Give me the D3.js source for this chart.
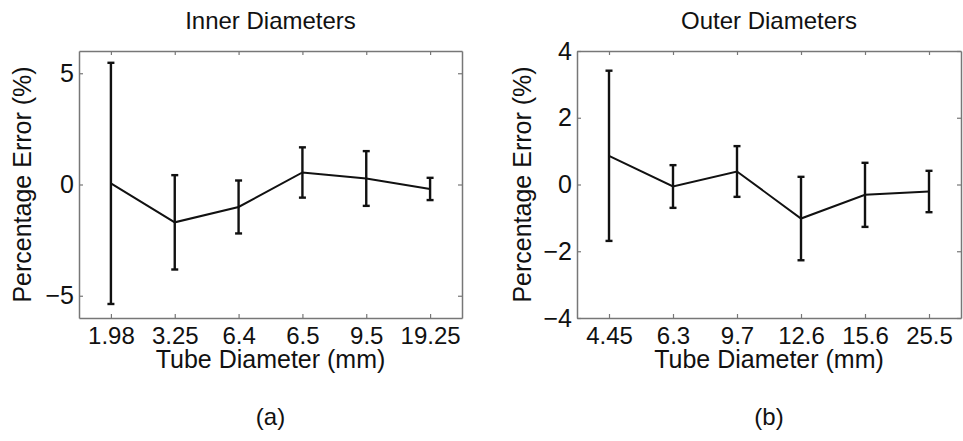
<!DOCTYPE html>
<meta charset="utf-8">
<script src="https://d3js.org/d3.v7.min.js"></script>
<style>
  body { margin: 0; background: #fff; }
  text { font-family: "Liberation Sans", Arial, Helvetica, sans-serif; fill: #111; }
</style>
<div id="my_dataviz"></div>
<script>

// values (mean and half-length of the error bar)
var innerLabels = ["1.98", "3.25", "6.4", "6.5", "9.5", "19.25"];
var innerMean   = [0.05, -1.70, -1.01, 0.54, 0.27, -0.20];
var innerErr    = [5.42, 2.12, 1.19, 1.13, 1.23, 0.50];

var outerLabels = ["4.45", "6.3", "9.7", "12.6", "15.6", "25.5"];
var outerMean   = [0.86, -0.06, 0.39, -1.02, -0.31, -0.21];
var outerErr    = [2.55, 0.64, 0.76, 1.25, 0.96, 0.62];

var innerTicks = [-5, 0, 5];
var outerTicks = [-4, -2, 0, 2, 4];

var svg = d3.select("#my_dataviz")
  .append("svg")
    .attr("width", 963)
    .attr("height", 441);

function panel(opt) {
  var width = opt.width, height = 267;
  var g = svg.append("g")
    .attr("transform", "translate(" + opt.left + "," + 51 + ")");

  var x = d3.scalePoint()
    .domain(opt.labels)
    .range([0, width])
    .padding(0.5);

  var y = d3.scaleLinear()
    .domain(opt.domain)
    .range([height, 0]);

  // axes, MATLAB style ticks pointing inwards
  var xb = g.append("g")
    .attr("transform", "translate(0," + height + ")")
    .call(d3.axisBottom(x).tickSizeInner(-4).tickSizeOuter(0).tickPadding(9));
  var xt = g.append("g")
    .call(d3.axisTop(x).tickSizeInner(-4).tickSizeOuter(0).tickFormat(""));
  var yl = g.append("g")
    .call(d3.axisLeft(y).tickValues(opt.ticks).tickSizeInner(-4).tickSizeOuter(0).tickPadding(5)
      .tickFormat(function(d) { return d < 0 ? "\u2212" + Math.abs(d) : d; }));
  var yr = g.append("g")
    .attr("transform", "translate(" + width + ",0)")
    .call(d3.axisRight(y).tickValues(opt.ticks).tickSizeInner(-4).tickSizeOuter(0).tickFormat(""));

  [xb, xt, yl, yr].forEach(function(a) {
    a.select(".domain").attr("stroke", "#777").attr("stroke-width", 1.5);
    a.selectAll(".tick line").attr("stroke", "#777").attr("stroke-width", 1.2);
    a.selectAll(".tick text")
      .style("font-size", "25px")
      .style("font-family", "'Liberation Sans', Arial, sans-serif")
      .attr("fill", "#111");
  });
  xb.selectAll(".tick text").style("font-size", "24px");

  // error bars
  var bars = g.append("g")
    .selectAll("g")
    .data(opt.labels)
    .enter()
    .append("g")
      .attr("stroke", "#111")
      .attr("stroke-width", 2.4);
  bars.append("line")
    .attr("x1", function(d) { return x(d); })
    .attr("x2", function(d) { return x(d); })
    .attr("y1", function(d, i) { return y(opt.mean[i] + opt.err[i]); })
    .attr("y2", function(d, i) { return y(opt.mean[i] - opt.err[i]); });
  bars.append("line")
    .attr("x1", function(d) { return x(d) - 3.5; })
    .attr("x2", function(d) { return x(d) + 3.5; })
    .attr("y1", function(d, i) { return y(opt.mean[i] + opt.err[i]); })
    .attr("y2", function(d, i) { return y(opt.mean[i] + opt.err[i]); });
  bars.append("line")
    .attr("x1", function(d) { return x(d) - 3.5; })
    .attr("x2", function(d) { return x(d) + 3.5; })
    .attr("y1", function(d, i) { return y(opt.mean[i] - opt.err[i]); })
    .attr("y2", function(d, i) { return y(opt.mean[i] - opt.err[i]); });

  // the mean line
  g.append("path")
    .datum(opt.labels)
    .attr("fill", "none")
    .attr("stroke", "#111")
    .attr("stroke-width", 2)
    .attr("d", d3.line()
      .x(function(d) { return x(d); })
      .y(function(d, i) { return y(opt.mean[i]); }));

  // texts
  g.append("text")
    .attr("x", width / 2)
    .attr("y", -22)
    .attr("text-anchor", "middle")
    .style("font-size", "24px")
    .text(opt.title);
  g.append("text")
    .attr("x", width / 2)
    .attr("y", height + 50)
    .attr("text-anchor", "middle")
    .style("font-size", "25px")
    .text("Tube Diameter (mm)");
  g.append("text")
    .attr("transform", "translate(" + opt.ylabelX + "," + height / 2 + ") rotate(-90)")
    .attr("text-anchor", "middle")
    .style("font-size", "25px")
    .text("Percentage Error (%)");
  g.append("text")
    .attr("x", width / 2)
    .attr("y", 374)
    .attr("text-anchor", "middle")
    .style("font-size", "24px")
    .text(opt.tag);
}

panel({ left: 79, width: 383, labels: innerLabels, mean: innerMean, err: innerErr,
        domain: [-6, 6], ticks: innerTicks, title: "Inner Diameters", tag: "(a)", ylabelX: -48 });
panel({ left: 577, width: 384, labels: outerLabels, mean: outerMean, err: outerErr,
        domain: [-4, 4], ticks: outerTicks, title: "Outer Diameters", tag: "(b)", ylabelX: -46 });

</script>
